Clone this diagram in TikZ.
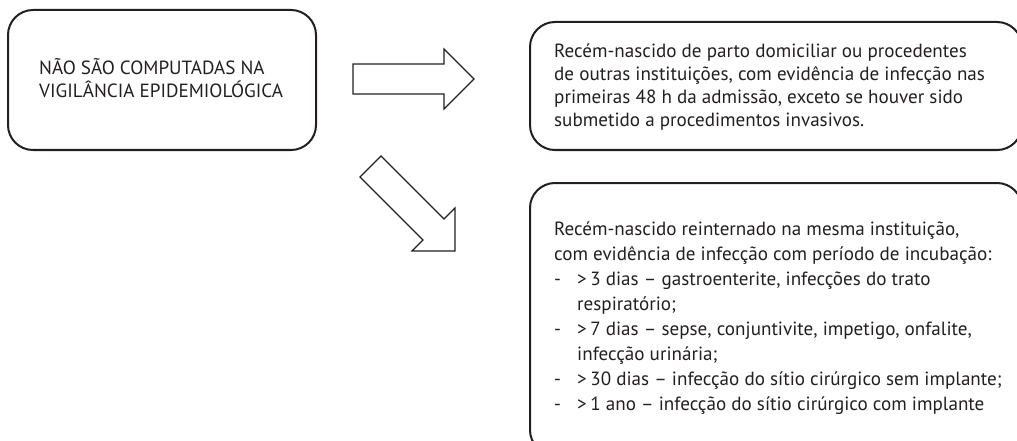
\documentclass[tikz,border=0pt]{standalone}
\usepackage{fontspec}
\setmainfont{PT Sans}
\definecolor{ink}{HTML}{231F20}
\begin{document}
\begin{tikzpicture}[x=1pt,y=-1pt,
  roundbox/.style={draw=ink, line width=2pt, rounded corners=25pt, inner sep=0pt},
  bodytext/.style={text=ink, inner sep=0pt, anchor=base west, align=left, font=\fontsize{19.1}{23.3}\selectfont},
  blockarrow/.style={draw=ink, line width=1.2pt, fill=white, line join=miter}]
\useasboundingbox (0,0) rectangle (1017,441);
\clip (0,0) rectangle (1017,441);
% boxes
\node[roundbox, minimum width=308pt, minimum height=140pt] (left) at (162,80) {};
\node[roundbox, minimum width=492pt, minimum height=128pt] (topbox) at (776,86) {};
\node[roundbox, minimum width=492pt, minimum height=272pt] (botbox) at (776,319) {};
% texts (anchor = baseline of the last line)
\node[bodytext] (lefttext) at (39,98) {NÃO SÃO COMPUTADAS NA\\VIGILÂNCIA EPIDEMIOLÓGICA};
\node[bodytext] (toptext) at (554,127) {Recém-nascido de parto domiciliar ou procedentes\\
de outras instituições, com evidência de infecção nas\\
primeiras 48 h da admissão, exceto se houver sido\\
submetido a procedimentos invasivos.};
\node[bodytext, font=\fontsize{19.1}{25}\selectfont] (bottext) at (554,410) {Recém-nascido reinternado na mesma instituição,\\
com evidência de infecção com período de incubação:\\
\makebox[23pt][l]{-}>\hspace{3.5pt}3 dias – gastroenterite, infecções do trato\\
\hspace*{23pt}respiratório;\\
\makebox[23pt][l]{-}>\hspace{3.5pt}7 dias – sepse, conjuntivite, impetigo, onfalite,\\
\hspace*{23pt}infecção urinária;\\
\makebox[23pt][l]{-}>\hspace{3.5pt}30 dias – infecção do sítio cirúrgico sem implante;\\
\makebox[23pt][l]{-}>\hspace{3.5pt}1 ano – infecção do sítio cirúrgico com implante};
% block arrows
\coordinate (r1) at (353,64);
\draw[blockarrow] (r1) -- (444,64) -- (444,49) -- (474,79) -- (444,109) -- (444,94) -- (353,94) -- cycle;
\coordinate (d1) at (381,156);
\draw[blockarrow] (d1) -- (444,219) -- (455,208) -- (455,251) -- (412,251) -- (423,240) -- (360,177) -- cycle;
\end{tikzpicture}
\end{document}
